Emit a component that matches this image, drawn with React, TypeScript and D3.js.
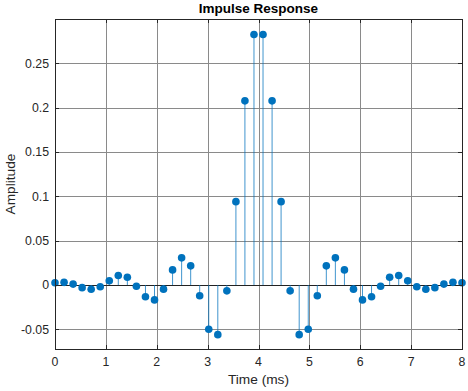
import React, { useEffect, useRef } from 'react';
import * as d3 from 'd3';

const times = [
  0, 0.178, 0.356, 0.533, 0.711, 0.889, 1.067, 1.244, 1.422, 1.6,
  1.778, 1.956, 2.133, 2.311, 2.489, 2.667, 2.844, 3.022, 3.2, 3.378,
  3.556, 3.733, 3.911, 4.089, 4.267, 4.444, 4.622, 4.8, 4.978, 5.156,
  5.333, 5.511, 5.689, 5.867, 6.044, 6.222, 6.4, 6.578, 6.756, 6.933,
  7.111, 7.289, 7.467, 7.644, 7.822, 8,
];

const amplitude = [
  0.0026, 0.003, 0.001, -0.003, -0.0048, -0.002, 0.0047, 0.0107, 0.0088, -0.0015,
  -0.0133, -0.0168, -0.0047, 0.017, 0.0306, 0.0216, -0.0122, -0.05, -0.056, -0.0066,
  0.094, 0.2077, 0.2826, 0.2826, 0.2077, 0.094, -0.0066, -0.056, -0.05, -0.0122,
  0.0216, 0.0306, 0.017, -0.0047, -0.0168, -0.0133, -0.0015, 0.0088, 0.0107, 0.0047,
  -0.002, -0.0048, -0.003, 0.001, 0.003, 0.0026,
];

const xTicks = [0, 1, 2, 3, 4, 5, 6, 7, 8];
const yTicks = [-0.05, 0, 0.05, 0.1, 0.15, 0.2, 0.25];

const W = 468;
const H = 391;
const FONT = '"Liberation Sans", Arial, Helvetica, sans-serif';

const ImpulseResponse = () => {
  const svgRef = useRef<SVGSVGElement>(null);

  useEffect(() => {
    const svg = d3.select(svgRef.current);
    svg.selectAll('*').remove();

    const left = 55, right = 462, top = 19, bottom = 349;

    const x = d3.scaleLinear().domain([0, 8]).range([left, right]);
    const y = d3.scaleLinear().domain([-0.0722, 0.3]).range([bottom, top]);

    svg.append('rect')
      .attr('x', left).attr('y', top)
      .attr('width', right - left).attr('height', bottom - top)
      .attr('fill', '#fff');

    // grid
    const grid = svg.append('g').attr('stroke', '#8a8a8a').attr('stroke-width', 1);
    xTicks.forEach(t => {
      const px = Math.round(x(t)) + 0.5;
      grid.append('line').attr('x1', px).attr('x2', px).attr('y1', top).attr('y2', bottom);
    });
    yTicks.forEach(t => {
      const py = Math.round(y(t)) + 0.5;
      grid.append('line').attr('x1', left).attr('x2', right).attr('y1', py).attr('y2', py);
    });

    // baseline
    const y0 = Math.round(y(0)) + 0.5;
    svg.append('line')
      .attr('x1', left).attr('x2', right).attr('y1', y0).attr('y2', y0)
      .attr('stroke', '#222').attr('stroke-width', 1);

    const pts = times.map((t, i) => [t, amplitude[i]] as [number, number]);

    // stems
    svg.append('g').selectAll('line').data(pts).enter().append('line')
      .attr('x1', d => x(d[0])).attr('x2', d => x(d[0]))
      .attr('y1', y(0)).attr('y2', d => y(d[1]))
      .attr('stroke', '#0072BD').attr('stroke-width', 1).attr('stroke-opacity', 0.75);

    // markers
    svg.append('g').selectAll('circle').data(pts).enter().append('circle')
      .attr('cx', d => x(d[0])).attr('cy', d => y(d[1]))
      .attr('r', 3.8).attr('fill', '#0072BD');

    // box
    svg.append('rect')
      .attr('x', left + 0.5).attr('y', top + 0.5)
      .attr('width', right - left).attr('height', bottom - top)
      .attr('fill', 'none').attr('stroke', '#262626').attr('stroke-width', 1);

    // ticks inside
    const tk = svg.append('g').attr('stroke', '#262626').attr('stroke-width', 1);
    xTicks.forEach(t => {
      const px = Math.round(x(t)) + 0.5;
      tk.append('line').attr('x1', px).attr('x2', px).attr('y1', bottom).attr('y2', bottom - 4);
      tk.append('line').attr('x1', px).attr('x2', px).attr('y1', top).attr('y2', top + 4);
    });
    yTicks.forEach(t => {
      const py = Math.round(y(t)) + 0.5;
      tk.append('line').attr('x1', left).attr('x2', left + 4).attr('y1', py).attr('y2', py);
      tk.append('line').attr('x1', right).attr('x2', right - 4).attr('y1', py).attr('y2', py);
    });

    // tick labels
    svg.append('g').selectAll('text').data(xTicks).enter().append('text')
      .attr('x', d => x(d)).attr('y', 366)
      .attr('text-anchor', 'middle')
      .style('font-family', FONT).style('font-size', '12.3px').attr('fill', '#262626')
      .text(d => String(d));

    svg.append('g').selectAll('text').data(yTicks).enter().append('text')
      .attr('x', left - 6).attr('y', d => y(d)).attr('dy', '0.35em')
      .attr('text-anchor', 'end')
      .style('font-family', FONT).style('font-size', '12.3px').attr('fill', '#262626')
      .text(d => String(d));

    svg.append('text')
      .attr('x', (left + right) / 2).attr('y', 384)
      .attr('text-anchor', 'middle')
      .style('font-family', FONT).style('font-size', '13.7px').attr('fill', '#262626')
      .text('Time (ms)');

    svg.append('text')
      .attr('transform', `translate(15, ${(top + bottom) / 2}) rotate(-90)`)
      .attr('text-anchor', 'middle')
      .style('font-family', FONT).style('font-size', '13.7px').attr('fill', '#262626')
      .text('Amplitude');

    svg.append('text')
      .attr('x', (left + right) / 2).attr('y', 13)
      .attr('text-anchor', 'middle')
      .style('font-family', FONT).style('font-size', '13.5px').style('font-weight', 'bold')
      .attr('fill', '#000')
      .text('Impulse Response');
  }, []);

  return (
    <svg
      ref={svgRef}
      width={W}
      height={H}
      style={{ position: 'absolute', left: 0, top: 0, background: '#fff' }}
    />
  );
};

export default function App() {
  return <ImpulseResponse />;
}
